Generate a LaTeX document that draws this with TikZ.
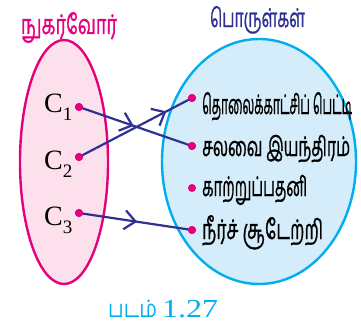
\documentclass[tikz,border=0pt]{standalone}
\usepackage{fontspec}
\usepackage{graphicx}
\setmainfont{Liberation Serif}
\newfontfamily\tamil[Script=Tamil,FakeBold=1.2]{Hind Madurai}
\newfontfamily\tamillight[Script=Tamil]{Hind Madurai}
\usetikzlibrary{decorations.markings}
\definecolor{magline}{HTML}{E6007E}
\definecolor{pinkfill}{HTML}{FCE1EC}
\definecolor{bluline}{HTML}{00AEEF}
\definecolor{blufill}{HTML}{D5EDFA}
\definecolor{navy}{HTML}{2E3192}
\newcommand\Clab[1]{C\raisebox{-8pt}{\fontsize{19}{19}\selectfont #1}}
\newcommand\fitw[2]{\resizebox{#1}{\height}{#2}}
\begin{document}
\begin{tikzpicture}[x=1pt,y=-1pt,
  setL/.style={draw=magline,fill=pinkfill,line width=2.4pt},
  setR/.style={draw=bluline,fill=blufill,line width=2.4pt},
  dotc/.style={circle,fill=magline,inner sep=0pt,minimum size=8pt},
  clab/.style={anchor=base west,inner sep=0pt,font=\fontsize{28}{28}\selectfont},
  tlab/.style={anchor=base west,inner sep=0pt,font=\tamil\fontsize{27}{27}\selectfont},
  maplink/.style={draw=navy,line width=2.2pt,postaction={decorate},
    decoration={markings,mark=at position #1 with {\draw[navy,line width=2.2pt,line join=miter] (-11pt,9.5pt) -- (0pt,0pt) -- (-11pt,-9.5pt);}}},
]
\useasboundingbox (0,0) rectangle (361,326);
\path[setL] (64,162) ellipse [x radius=44, y radius=122];
\path[setR] (259,161.5) ellipse [x radius=97, y radius=122.5];
% titles
\node[anchor=base,inner sep=0pt,text=magline,font=\tamil\fontsize{27}{27}\selectfont] (tL) at (69,34) {\fitw{96pt}{நுகர்வோர்}};
\node[anchor=base,inner sep=0pt,text=navy,font=\tamil\fontsize{26}{26}\selectfont] (tR) at (257.5,27) {\fitw{95pt}{பொருள்கள்}};
% left
\node[dotc] (c1) at (79,107) {};
\node[dotc] (c2) at (79,157) {};
\node[dotc] (c3) at (79,213) {};
\node[clab] (lc1) at (44,113) {\Clab{1}};
\node[clab] (lc2) at (44,169) {\Clab{2}};
\node[clab] (lc3) at (44,225) {\Clab{3}};
% right
\node[dotc] (p1) at (192,98) {};
\node[dotc] (p2) at (192,146) {};
\node[dotc] (p3) at (192,188) {};
\node[dotc] (p4) at (192,230) {};
\node[tlab] (l1) at (202,114) {\fitw{150pt}{தொலைக்காட்சிப் பெட்டி}};
\node[tlab] (l2) at (202,156) {\fitw{148pt}{சலவை இயந்திரம்}};
\node[tlab] (l3) at (202,196) {\fitw{105pt}{காற்றுப்பதனி}};
\node[tlab] (l4) at (202,239) {\fitw{121pt}{நீர்ச் சூடேற்றி}};
% links
\draw[maplink=0.47] (c1.center) -- (p2.center);
\draw[maplink=0.76] (c2.center) -- (p1.center);
\draw[maplink=0.5] (c3.center) -- (p4.center);
\node[dotc] at (c1) {};
\node[dotc] at (c2) {};
\node[dotc] at (c3) {};
\node[dotc] at (p1) {};
\node[dotc] at (p2) {};
\node[dotc] at (p4) {};
% caption
\node[anchor=base west,inner sep=0pt,text=bluline,font=\tamillight\fontsize{24}{24}\selectfont] (capA) at (108,317) {\fitw{49pt}{படம்}};
\node[anchor=base west,inner sep=0pt,text=bluline,font=\fontsize{26}{26}\selectfont] (capB) at (162,317) {\fitw{56pt}{1.27}};
\end{tikzpicture}
\end{document}
